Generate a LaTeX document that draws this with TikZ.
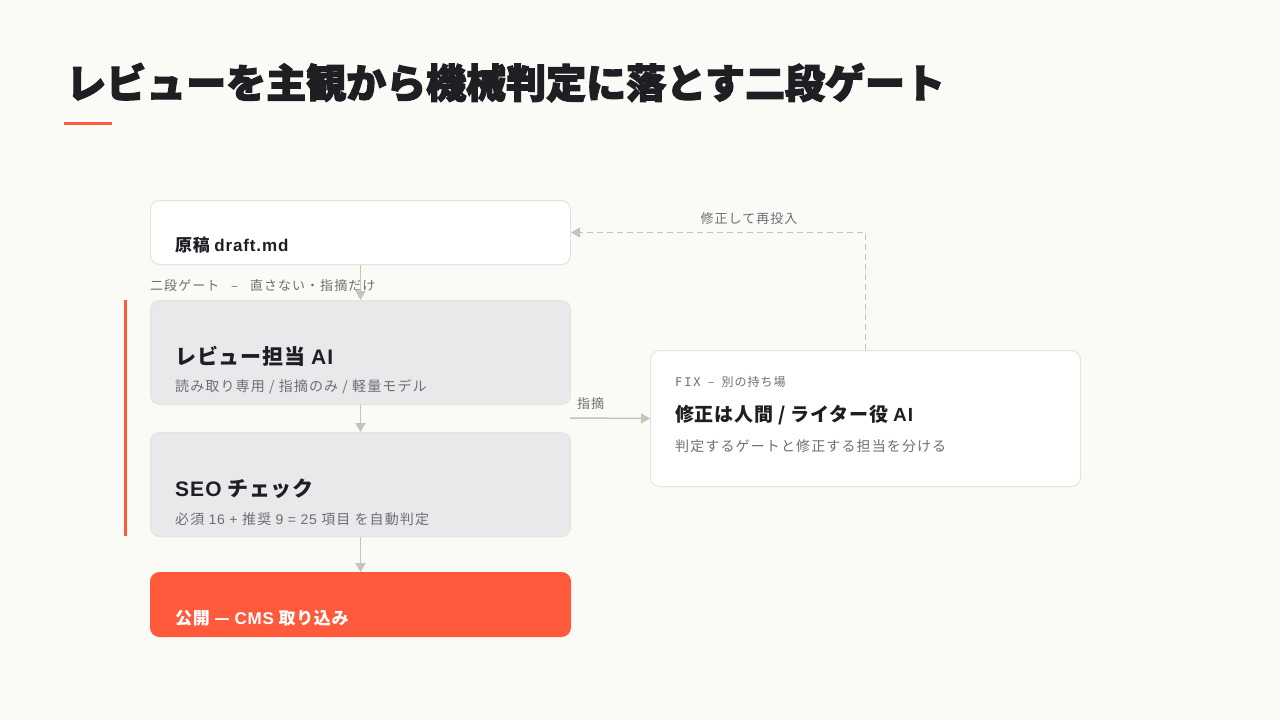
\documentclass[tikz,border=0pt]{standalone}
\usepackage{fontspec}
\setmainfont{Noto Sans CJK JP}[LetterSpace=4]
\newfontfamily\titlefont{Noto Sans CJK JP}[FakeBold=3]
\newfontfamily\widecjk{Noto Sans CJK JP}[LetterSpace=8]
\newfontfamily\latinfont{Liberation Sans}[LetterSpace=5]
\newfontfamily\monofont{DejaVu Sans Mono}[LetterSpace=16]
\newcommand\latn[1]{{\latinfont #1}}
\usetikzlibrary{arrows.meta}
\definecolor{bg}{HTML}{FAFAF7}
\definecolor{ink}{HTML}{1E1E23}
\definecolor{muted}{HTML}{6E6E73}
\definecolor{edge}{HTML}{E4E4DF}
\definecolor{grayfill}{HTML}{E8E9EB}
\definecolor{coral}{HTML}{FF5A3C}
\definecolor{arrowc}{HTML}{C4C4B8}
\tikzset{
  card/.style={draw=edge, line width=1pt, rounded corners=9pt, anchor=north west, inner sep=0pt},
  whitecard/.style={card, fill=white},
  graycard/.style={card, fill=grayfill},
  coralcard/.style={card, fill=coral, draw=coral},
  arr/.style={draw=arrowc, line width=1.5pt, -{Triangle[length=9pt,width=10pt]}},
  dasharr/.style={draw=arrowc, line width=1.5pt, dash pattern=on 6pt off 4pt, -{Triangle[length=9pt,width=10pt]}},
  txt/.style={anchor=base west, inner sep=0pt, text=ink},
  head/.style={txt, font=\fontsize{21}{24}\selectfont\bfseries},
  sub/.style={txt, text=muted, font=\fontsize{14}{17}\selectfont\widecjk},
  small/.style={txt, text=muted, font=\fontsize{13}{16}\selectfont\widecjk},
}
\begin{document}
\begin{tikzpicture}[x=1pt,y=-1pt]
\fill[bg] (0,0) rectangle (1280,720);
\useasboundingbox (0,0) rectangle (1280,720);

% title
\node[txt, font=\fontsize{40}{44}\selectfont\titlefont\bfseries] (title) at (66,98) {レビューを主観から機械判定に落とす二段ゲート};
\fill[coral] (64,122) rectangle (112,125);

% left accent bar
\fill[coral] (123.5,300) rectangle (126.5,536);

% cards
\node[whitecard, minimum width=420pt, minimum height=64pt] (draft) at (150,200) {};
\node[graycard, minimum width=420pt, minimum height=104pt] (review) at (150,300) {};
\node[graycard, minimum width=420pt, minimum height=104pt] (seo) at (150,432) {};
\node[coralcard, minimum width=420pt, minimum height=64pt] (pub) at (150,572) {};
\node[whitecard, minimum width=430pt, minimum height=136pt] (fix) at (650,350) {};

% texts
\node[txt, font=\fontsize{17}{20}\selectfont\bfseries] (draftt) at (175,251) {原稿 \latn{draft.md}};
\node[small] (gate) at (150,290) {二段ゲート\ \ \ –\ \ \ 直さない・指摘だけ};

\node[head] (reviewt) at (175,364) {レビュー担当 \latn{AI}};
\node[sub] (reviews) at (175,391) {読み取り専用 / 指摘のみ / 軽量モデル};

\node[head] (seot) at (175,496) {\latn{SEO} チェック};
\node[sub] (seos) at (175,524) {必須 \latn{16 + }推奨 \latn{9 = 25} 項目 を自動判定};

\node[txt, text=white, font=\fontsize{17}{20}\selectfont\bfseries] (pubt) at (175,624) {公開 — \latn{CMS} 取り込み};

\node[txt, text=muted, font=\fontsize{12}{14}\selectfont\widecjk] (fixk) at (675,386) {{\monofont FIX}\ \ –\ \ 別の持ち場};
\node[txt, font=\fontsize{19}{22}\selectfont\bfseries] (fixt) at (675,421) {修正は人間 / ライター役 \latn{AI}};
\node[sub] (fixs) at (675,451) {判定するゲートと修正する担当を分ける};

\node[small, anchor=base] (relabel) at (749,223) {修正して再投入};
\node[small] (shitekil) at (577,408) {指摘};

% connectors
\draw[arr] (draft.south) -- (review.north);
\draw[arr] (review.south) -- (seo.north);
\draw[arr] (seo.south) -- (pub.north);
\coordinate (shitekis) at (570,418);
\draw[arr] (shitekis) -- (fix.west);
\draw[dasharr] (fix.north) |- (draft.east);
\end{tikzpicture}
\end{document}
